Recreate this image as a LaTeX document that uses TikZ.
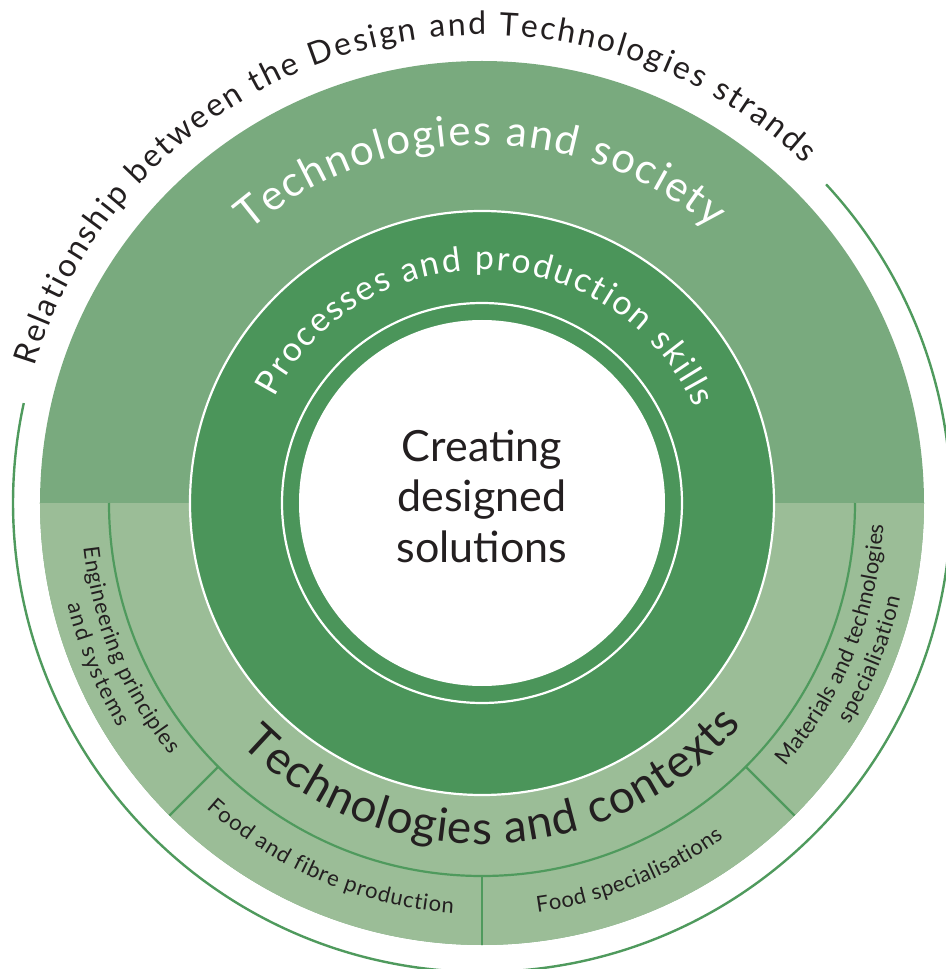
\documentclass[tikz,border=0pt]{standalone}
\usepackage{fontspec}
\setmainfont{Lato}
\usetikzlibrary{decorations.text}
\definecolor{topg}{HTML}{79AA7E}
\definecolor{botg}{HTML}{9BBD97}
\definecolor{darkg}{HTML}{4B955A}
\definecolor{lineg}{HTML}{4F9A5D}
\definecolor{ink}{HTML}{231F20}
\tikzset{
  sepline/.style={draw=lineg, line width=2.2},
  whiteline/.style={draw=white, line width=2.2},
}
\begin{document}
\begin{tikzpicture}[x=1pt,y=1pt]
\useasboundingbox (-482,-466) rectangle (463,503);
% outer disc
\fill[topg] (0,0) circle[radius=442];
\fill[botg] (-442,0) arc[start angle=180, end angle=360, radius=442] -- cycle;
% separators in the bottom ring
\draw[sepline] (180:373) arc[start angle=180, end angle=360, radius=373];
\foreach \a in {225,270,315} \draw[sepline] (\a:373) -- (\a:442);
% dark disc and inner rings
\fill[darkg] (0,0) circle[radius=292];
\draw[whiteline] (0,0) circle[radius=292];
\draw[whiteline] (0,0) circle[radius=200];
\fill[white] (0,0) circle[radius=183];
% outer thin arc
\draw[draw=lineg, line width=2.4] (42.8:469) arc[start angle=42.8, end angle=-192.3, radius=469];
% centre
\node[font=\fontsize{43}{50.5}\selectfont, text=ink, align=center, inner sep=0] (core) at (0,7) {Creating\\designed\\solutions};
% title
\path[decorate, decoration={text along path, text align=fit to path,
  text={|\fontsize{32}{34}\selectfont\color{ink}|Relationship between the Design and Technologies strands}}]
  (163:468) arc[start angle=163, end angle=46.5, radius=468];
% Technologies and society
\path[decorate, decoration={text along path, text align=fit to path,
  text={|\fontsize{42}{44}\selectfont\color{white}|Technologies and society}}]
  (130.5:358) arc[start angle=130.5, end angle=50, radius=358];
% Processes and production skills
\path[decorate, decoration={text along path, text align=fit to path,
  text={|\fontsize{34}{36}\selectfont\color{white}|Processes and production skills}}]
  (153:233) arc[start angle=153, end angle=24, radius=233];
% Technologies and contexts
\path[decorate, decoration={text along path, text align=fit to path,
  text={|\fontsize{46}{48}\selectfont\color{ink}|Technologies and contexts}}]
  (225:341) arc[start angle=225, end angle=319.5, radius=341];
% Food and fibre production
\path[decorate, decoration={text along path, text align=fit to path,
  text={|\fontsize{22}{24}\selectfont\color{ink}|Food and fibre production}}]
  (228:411) arc[start angle=228, end angle=266, radius=411];
% Food specialisations
\path[decorate, decoration={text along path, text align=fit to path,
  text={|\fontsize{22}{24}\selectfont\color{ink}|Food specialisations}}]
  (277.7:413) arc[start angle=277.7, end angle=305.8, radius=413];
% Engineering principles and systems
\path[decorate, decoration={text along path, text align=fit to path,
  text={|\fontsize{22}{24}\selectfont\color{ink}|Engineering principles}}]
  (186.4:401) arc[start angle=186.4, end angle=218.9, radius=401];
\path[decorate, decoration={text along path, text align=fit to path,
  text={|\fontsize{22}{24}\selectfont\color{ink}|and systems}}]
  (193.8:427) arc[start angle=193.8, end angle=211.7, radius=427];
% Materials and technologies specialisation
\path[decorate, decoration={text along path, text align=fit to path,
  text={|\fontsize{22}{24}\selectfont\color{ink}|Materials and technologies}}]
  (319:402) arc[start angle=319, end angle=356.9, radius=402];
\path[decorate, decoration={text along path, text align=fit to path,
  text={|\fontsize{22}{24}\selectfont\color{ink}|specialisation}}]
  (328.9:429) arc[start angle=328.9, end angle=347.2, radius=429];
\end{tikzpicture}
\end{document}
